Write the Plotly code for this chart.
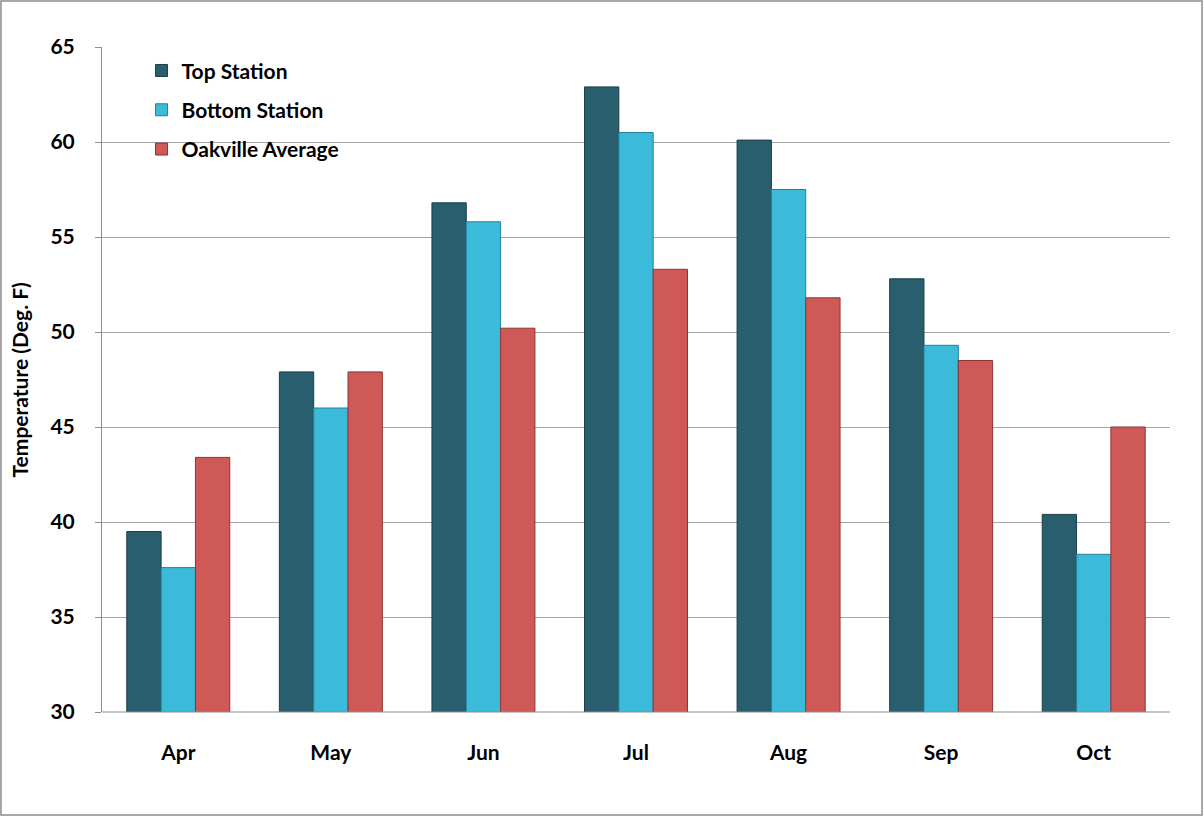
import plotly.graph_objects as go

# Monthly mean temperatures (deg F)
months = ["Apr", "May", "Jun", "Jul", "Aug", "Sep", "Oct"]
top_station = [39.5, 47.9, 56.8, 62.9, 60.1, 52.8, 40.4]
bottom_station = [37.6, 46.0, 55.8, 60.5, 57.5, 49.3, 38.3]
oakville_avg = [43.4, 47.9, 50.2, 53.3, 51.8, 48.5, 45.0]

y_ticks = [30, 35, 40, 45, 50, 55, 60, 65]
y_title = "Temperature (Deg. F)"

series = [
    ("Top Station", top_station, "#285E6D", "#1b3f49"),
    ("Bottom Station", bottom_station, "#3BBAD9", "#25809a"),
    ("Oakville Average", oakville_avg, "#CF5957", "#8c3533"),
]

FONT = "Lato, 'Open Sans', Arial, sans-serif"

fig = go.Figure()
for name, vals, color, edge in series:
    fig.add_trace(go.Bar(
        name=name,
        x=months,
        y=vals,
        base=0,
        legendgroup=name,
        marker=dict(color=color, line=dict(color=edge, width=1)),
    ))

fig.update_layout(
    width=1204,
    height=817,
    margin=dict(l=102, r=34, t=47, b=105),
    paper_bgcolor="white",
    plot_bgcolor="white",
    barmode="group",
    bargap=0.325,
    bargroupgap=0,
    font=dict(family=FONT, color="black"),
    showlegend=True,
    legend=dict(
        x=0.037, y=0.995, xanchor="left", yanchor="top",
        bgcolor="rgba(0,0,0,0)",
        font=dict(size=21, family=FONT, weight="bold"),
        traceorder="grouped",
        tracegroupgap=9,
        itemwidth=30,
    ),
    xaxis=dict(
        showgrid=False,
        showline=False,
        ticks="",
        tickfont=dict(size=21, family=FONT, weight="bold"),
        ticklabelstandoff=26,
    ),
    yaxis=dict(
        range=[30, 65],
        tickvals=y_ticks,
        showgrid=True,
        gridcolor="#A6A6A6",
        gridwidth=1.2,
        showline=True,
        linecolor="#8C8C8C",
        linewidth=1,
        ticks="outside",
        ticklen=6,
        tickcolor="#8C8C8C",
        tickfont=dict(size=21, family=FONT, weight="bold"),
        ticklabelstandoff=16,
        zeroline=False,
    ),
    annotations=[
        dict(
            text=y_title, textangle=-90,
            xref="paper", yref="paper", x=-0.0768, y=0.5,
            xanchor="center", yanchor="middle", showarrow=False,
            font=dict(size=21, family=FONT, weight="bold", color="black"),
        ),
    ],
    shapes=[
        # outer chart frame
        dict(type="rect", xref="paper", yref="paper",
             x0=-0.0946, x1=1.0300, y0=-0.1549, y1=1.0692,
             line=dict(color="#8C8C8C", width=1.5), layer="below"),
        # baseline at 30
        dict(type="line", xref="paper", yref="paper",
             x0=0, x1=1, y0=0, y1=0,
             line=dict(color="#8C8C8C", width=1.2), layer="above"),
    ],
)

fig.write_html("out.html")
